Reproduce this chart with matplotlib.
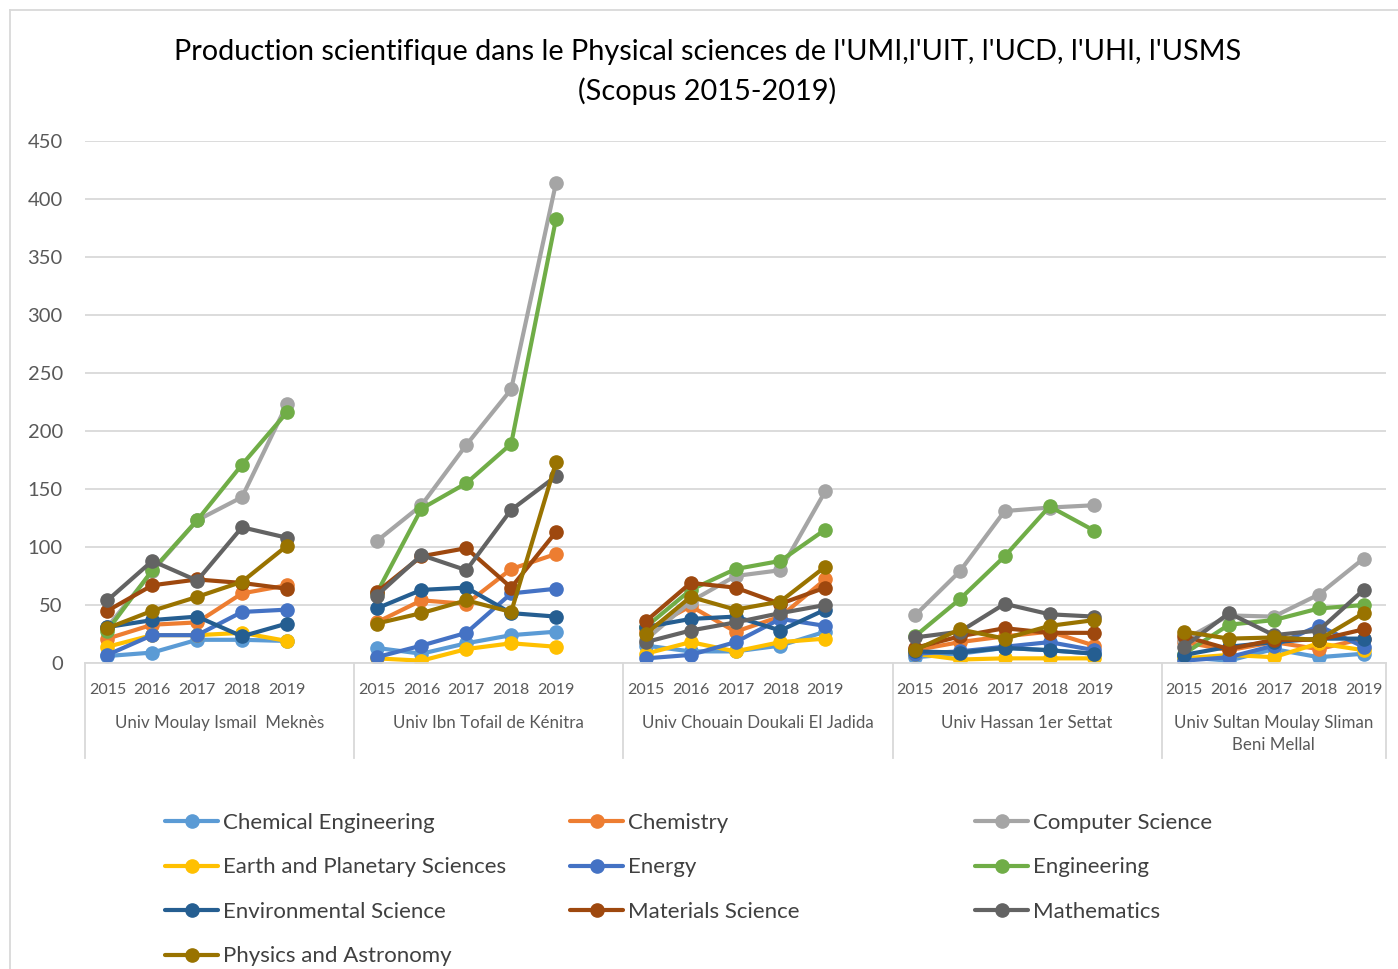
import numpy as np
import matplotlib
matplotlib.use("Agg")
from matplotlib import pyplot as plt
from matplotlib.lines import Line2D
import matplotlib.transforms as mtransforms

plt.rcParams['font.family'] = ['Lato', 'DejaVu Sans']

# Data (Scopus 2015-2019), one list per university, order = years
years = ['2015', '2016', '2017', '2018', '2019']
universities = ['Univ Moulay Ismail  Meknès', 'Univ Ibn Tofail de Kénitra',
                'Univ Chouain Doukali El Jadida', 'Univ Hassan 1er Settat',
                'Univ Sultan Moulay Sliman\nBeni Mellal']

chemical_engineering = [[6, 9, 20, 20, 19], [13, 8, 17, 24, 27], [15, 10, 10, 15, 27],
                        [5, 8, 13, 11, 8], [5, 2, 12, 5, 8]]
chemistry = [[21, 33, 35, 60, 67], [35, 54, 51, 81, 94], [28, 49, 27, 40, 72],
             [11, 18, 23, 27, 15], [18, 11, 18, 12, 21]]
computer_science = [[31, 79, 123, 143, 223], [105, 136, 188, 236, 414], [20, 53, 75, 80, 148],
                    [41, 79, 131, 134, 136], [20, 41, 40, 59, 90]]
earth_planetary = [[14, 24, 24, 26, 19], [4, 2, 12, 17, 14], [8, 18, 10, 18, 21],
                   [8, 3, 4, 4, 4], [4, 7, 5, 17, 11]]
energy = [[7, 24, 24, 44, 46], [5, 15, 26, 60, 64], [4, 7, 18, 38, 32],
          [8, 10, 14, 18, 11], [2, 5, 15, 32, 14]]
engineering = [[28, 80, 123, 171, 216], [60, 133, 155, 189, 383], [31, 63, 81, 88, 115],
               [23, 55, 92, 135, 114], [8, 33, 37, 47, 50]]
environmental = [[31, 37, 40, 23, 34], [47, 63, 65, 43, 40], [31, 38, 40, 28, 46],
                 [10, 9, 13, 11, 8], [7, 14, 18, 21, 21]]
materials = [[45, 67, 72, 69, 64], [61, 92, 99, 65, 113], [36, 69, 65, 51, 65],
             [13, 23, 30, 26, 26], [23, 12, 20, 20, 29]]
mathematics = [[54, 88, 71, 117, 108], [58, 93, 80, 132, 161], [18, 28, 35, 43, 50],
               [22, 27, 51, 42, 40], [14, 43, 24, 28, 63]]
physics = [[30, 45, 57, 70, 101], [34, 43, 54, 44, 173], [25, 57, 46, 53, 83],
           [11, 29, 21, 32, 37], [27, 21, 22, 20, 43]]

series_names = ['Chemical Engineering', 'Chemistry', 'Computer Science',
                'Earth and Planetary Sciences', 'Energy', 'Engineering',
                'Environmental Science', 'Materials Science', 'Mathematics',
                'Physics and Astronomy']
series_values = [chemical_engineering, chemistry, computer_science, earth_planetary,
                 energy, engineering, environmental, materials, mathematics, physics]
colors = ['#5B9BD5', '#ED7D31', '#A5A5A5', '#FFC000', '#4472C4',
          '#70AD47', '#255E91', '#9E480E', '#636363', '#997300']

# each university takes 6 category slots (5 years + an empty one), last one 5
n_groups = len(universities)
n_cat = 6 * n_groups - 1
group_start = [6 * g for g in range(n_groups)]


def to_row(groups):
    row = np.full(n_cat, np.nan)
    for g, vals in enumerate(groups):
        row[group_start[g]:group_start[g] + len(vals)] = vals
    return row


fig = plt.figure(figsize=(13.98, 9.69), dpi=100)
ax = fig.add_axes([85 / 1398, 1 - 663 / 969, 1301 / 1398, 522 / 969])

x = np.arange(n_cat)
handles = []
for name, vals, c in zip(series_names, series_values, colors):
    h, = ax.plot(x, to_row(vals), color=c, lw=3, marker='o', markersize=9.5,
                 solid_capstyle='round', label=name)
    handles.append(h)

ax.set_xlim(-0.5, n_cat - 0.5)
ax.set_ylim(0, 450)
ax.set_yticks(range(0, 451, 50))
ax.yaxis.grid(True, color='#D9D9D9', lw=1.3)
ax.set_axisbelow(True)
for s in ['left', 'right', 'top']:
    ax.spines[s].set_visible(False)
ax.spines['bottom'].set_color('#D9D9D9')
ax.spines['bottom'].set_linewidth(1.3)
ax.tick_params(axis='y', length=0, labelsize=14.5, labelcolor='#595959', pad=16)

# year ticks
xt = []
xl = []
for g in range(n_groups):
    for j, yr in enumerate(years):
        xt.append(group_start[g] + j)
        xl.append(yr)
ax.set_xticks(xt)
ax.set_xticklabels(xl)
ax.tick_params(axis='x', length=0, labelsize=11.5, labelcolor='#595959', pad=14.5)

# group labels and separators
trans = mtransforms.blended_transform_factory(ax.transData, ax.transAxes)
bounds = [s - 0.5 for s in group_start] + [n_cat - 0.5]
for b in bounds:
    ax.plot([b, b], [0, -95 / 522], transform=trans, color='#D9D9D9', lw=1.3,
            clip_on=False)
for g, name in enumerate(universities):
    cx = (bounds[g] + bounds[g + 1]) / 2
    ax.text(cx, -52 / 522, name, transform=trans, ha='center', va='top',
            fontsize=12.2, color='#595959', linespacing=1.5)

title_lines = ["Production scientifique dans le Physical sciences de l'UMI,l'UIT, l'UCD, l'UHI, l'USMS",
               "(Scopus 2015-2019)"]
fig.text(0.506, 1 - 52 / 969, title_lines[0], ha='center', va='center', fontsize=20.8)
fig.text(0.506, 1 - 91 / 969, title_lines[1], ha='center', va='center', fontsize=20.8)

# legend: three columns, row-major like Excel
col_x = [165, 570, 975]
for k in range(3):
    idx = list(range(k, len(series_names), 3))
    fig.legend([handles[i] for i in idx], [series_names[i] for i in idx],
               loc='upper left', bbox_to_anchor=(col_x[k] / 1398, 1 - 813 / 969),
               frameon=False, fontsize=16, handlelength=2.4, handletextpad=0.2,
               labelspacing=1.1, borderpad=0, borderaxespad=0, labelcolor='#404040')

# chart area border
fig.add_artist(Line2D([10 / 1398, 10 / 1398], [0, 1 - 10 / 969], color='#D9D9D9', lw=1.3))
fig.add_artist(Line2D([10 / 1398, 1], [1 - 10 / 969, 1 - 10 / 969], color='#D9D9D9', lw=1.3))

fig.savefig('out.png', dpi=100)
